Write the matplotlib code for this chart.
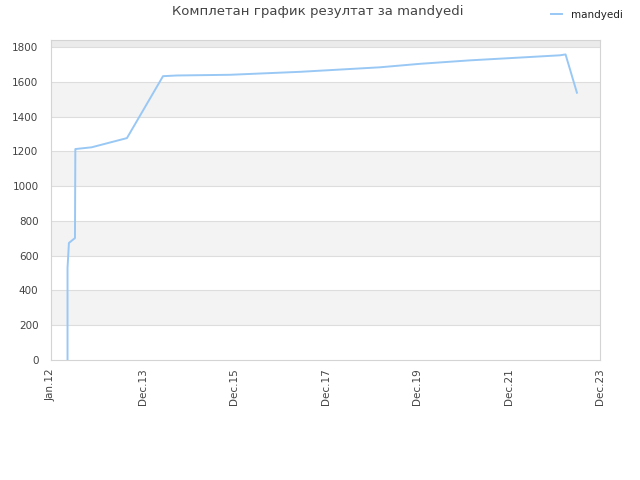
import matplotlib
matplotlib.use("Agg")
import matplotlib.pyplot as plt
import matplotlib.dates as mdates
import numpy as np
import pandas as pd

title = "Комплетан график резултат за mandyedi"
series_name = "mandyedi"
dates = ["2012-05-11", "2012-05-11", "2012-05-22", "2012-07-09", "2012-07-12",
         "2012-11-18", "2013-08-25", "2014-06-07", "2014-09-26", "2015-11-20",
         "2017-05-28", "2019-02-20", "2020-01-03", "2021-02-03", "2022-03-06",
         "2023-01-17", "2023-03-03", "2023-06-01"]
values = [0, 529, 673, 701, 1213, 1223, 1276, 1632, 1636, 1640,
          1657, 1683, 1703, 1723, 1739, 1752, 1757, 1537]
tick_labels = ["Jan.12", "Dec.13", "Dec.15", "Dec.17", "Dec.19", "Dec.21", "Dec.23"]
x_start, x_end = "2012-01-01", "2023-12-01"
y_ticks = [0, 200, 400, 600, 800, 1000, 1200, 1400, 1600, 1800]

plt.rcParams['font.family'] = ['DejaVu Sans']
fig = plt.figure(figsize=(6.4, 4.8), dpi=100)
ax = fig.add_axes([51/640, 1-360/480, 549/640, 320/480])

x = mdates.date2num(pd.to_datetime(dates))
x0 = mdates.date2num(pd.Timestamp(x_start))
x1 = mdates.date2num(pd.Timestamp(x_end))
ymax = 1840

# bands
for i in range(len(y_ticks) - 1):
    if i % 2 == 1:
        ax.axhspan(y_ticks[i], y_ticks[i+1], color='#f3f3f3', zorder=0, lw=0)
ax.axhspan(y_ticks[-1], ymax, color='#ebebeb', zorder=0, lw=0)
for yt in y_ticks[1:]:
    ax.axhline(yt, color='#dddddd', lw=0.8, zorder=1)

line, = ax.plot(x, values, color='#99c8f5', lw=1.4, zorder=3, label=series_name)

ax.set_xlim(x0, x1)
ax.set_ylim(0, ymax)
ax.set_xticks(np.linspace(x0, x1, len(tick_labels)))
ax.set_xticklabels(tick_labels, rotation=90, fontsize=7.5, color='#444444')
ax.set_yticks(y_ticks)
ax.set_yticklabels([str(v) for v in y_ticks], fontsize=7.5, color='#444444')
ax.tick_params(axis='x', length=0, pad=6)
ax.tick_params(axis='y', length=0, pad=9)
for s in ax.spines.values():
    s.set_color('#d4d4d4')
    s.set_linewidth(0.8)

fig.text(318/640, 1-12/480, title, ha='center', va='center', fontsize=9.5, color='#444444')
leg = fig.legend(handles=[line], loc='center left', bbox_to_anchor=(551/640, 1-15/480),
                 frameon=False, fontsize=7.5, handlelength=1.1, handletextpad=0.8,
                 borderaxespad=0, borderpad=0)
for t in leg.get_texts():
    t.set_color('#222222')

fig.savefig("out.png", dpi=100)
